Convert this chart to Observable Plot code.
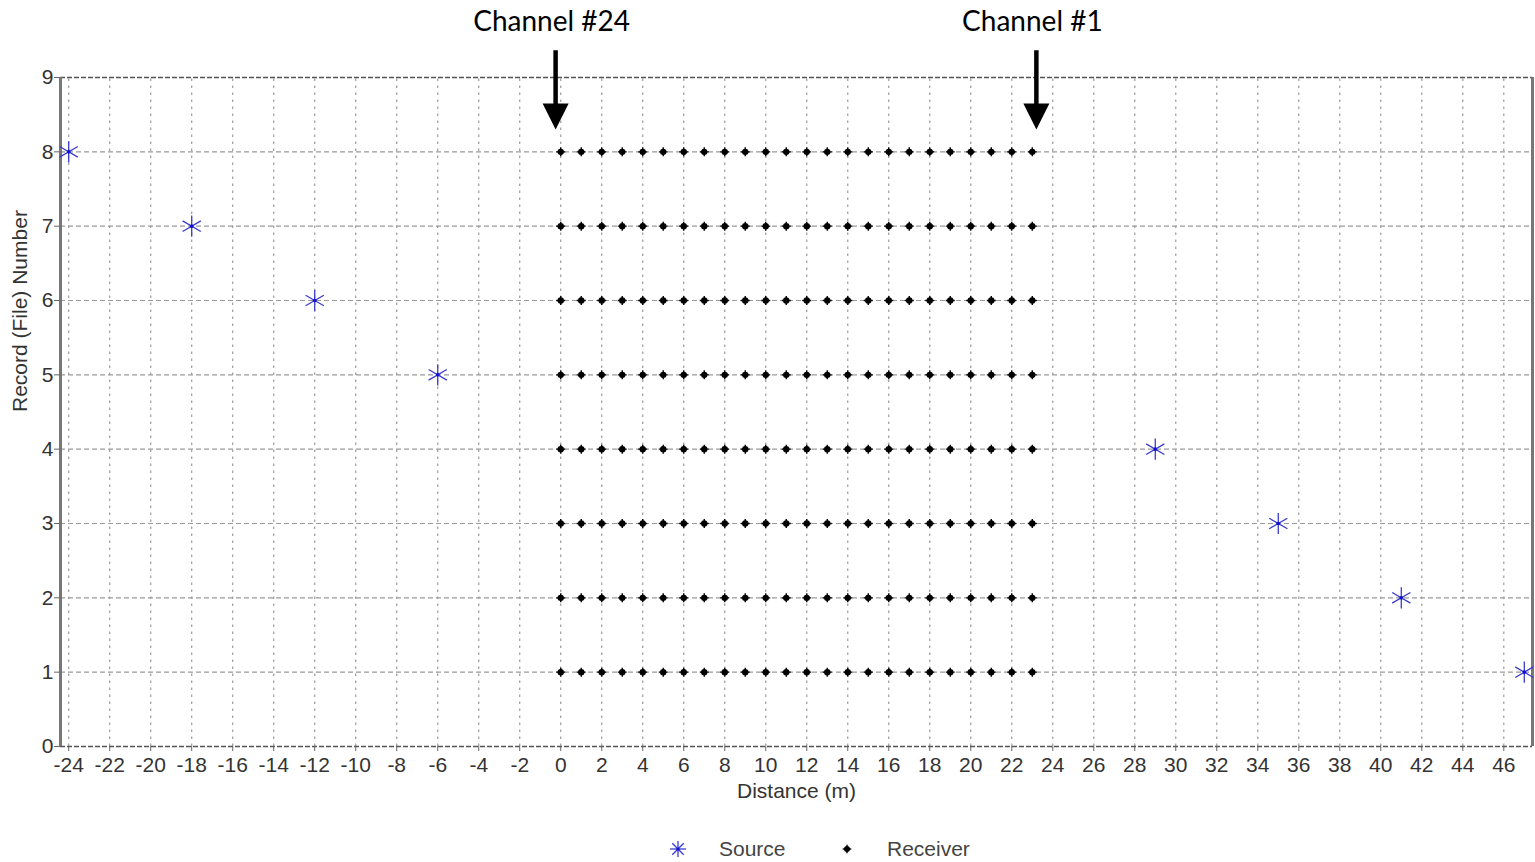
<!DOCTYPE html>
<html>
<head>
<meta charset="utf-8">
<script src="https://cdn.jsdelivr.net/npm/d3@7"></script>
<script src="https://cdn.jsdelivr.net/npm/@observablehq/plot@0.6"></script>
<style>
  html, body { margin: 0; padding: 0; background: #fff; }
  #chart { width: 1535px; }
  #legend { width: 1535px; height: 30px; position: relative; margin-top: 19px;
    font-family: "Liberation Sans", Arial, sans-serif; font-size: 21px; color: #444; }
  #legend .item { position: absolute; top: 0; line-height: 30px; }
</style>
</head>
<body>
<div id="chart"></div>
<div id="legend">
  <svg class="item" style="left:668px;top:5px" width="20" height="20" viewBox="-10 -10 20 20">
    <g stroke="#3b3bd0" stroke-width="1.3">
      <line x1="-8" y1="0" x2="8" y2="0"/><line x1="0" y1="-8" x2="0" y2="8"/>
      <line x1="-5.7" y1="-5.7" x2="5.7" y2="5.7"/><line x1="-5.7" y1="5.7" x2="5.7" y2="-5.7"/>
    </g>
    <circle r="1.6" fill="#1010d0"/>
  </svg>
  <span class="item" style="left:719px">Source</span>
  <svg class="item" style="left:840px;top:8px" width="14" height="14" viewBox="-7 -7 14 14">
    <circle r="3" fill="#000"/>
    <g stroke="#000" stroke-width="1.4"><line x1="-4.3" y1="0" x2="4.3" y2="0"/><line x1="0" y1="-4.3" x2="0" y2="4.3"/></g>
  </svg>
  <span class="item" style="left:887px">Receiver</span>
</div>
<script>
// Source positions (distance in m, record number)
const sourceX = [-24, -18, -12, -6, 29, 35, 41, 47];
const sourceY = [8, 7, 6, 5, 4, 3, 2, 1];
// Receivers: 24 channels at 0..23 m for each record 1..8
const receiverX = [0,1,2,3,4,5,6,7,8,9,10,11,12,13,14,15,16,17,18,19,20,21,22,23];
const records = [1,2,3,4,5,6,7,8];
// Tick values
const xTicks = [-24,-22,-20,-18,-16,-14,-12,-10,-8,-6,-4,-2,0,2,4,6,8,10,12,14,16,18,20,22,24,26,28,30,32,34,36,38,40,42,44,46];
const yTicks = [0,1,2,3,4,5,6,7,8,9];
// Annotations
const annotX = [-0.25, 23.2];
const annotLabels = ["Channel #24", "Channel #1"];
const annotTextY = [9.74, 9.74];
const arrowTopY = [9.36, 9.36];
const arrowTipY = [8.3, 8.3];

const sources = sourceX.map((x, i) => ({x, y: sourceY[i]}));
const receivers = records.flatMap(r => receiverX.map(x => ({x, y: r})));
const annots = annotX.map((x, i) => ({x, label: annotLabels[i], ty: annotTextY[i], y1: arrowTopY[i], y2: arrowTipY[i]}));

const downTriangle = {
  draw(context) {
    context.moveTo(-13, -26);
    context.lineTo(13, -26);
    context.lineTo(0, 0);
    context.closePath();
  }
};
const smallPlus = {
  draw(context) {
    context.moveTo(-4.5, 0); context.lineTo(4.5, 0);
    context.moveTo(0, -4.5); context.lineTo(0, 4.5);
  }
};

const font = "'Liberation Sans', Arial, sans-serif";

const chart = Plot.plot({
  width: 1535,
  height: 815,
  marginLeft: 60,
  marginRight: 3,
  marginTop: 77,
  marginBottom: 69,
  style: {fontFamily: font, fontSize: "21px", color: "#333", background: "#fff", overflow: "visible"},
  x: {domain: [-24.4, 47.4]},
  y: {domain: [0, 9]},
  marks: [
    // grid
    Plot.ruleX(xTicks, {y1: 0, y2: 9, stroke: "#9a9a9a", strokeWidth: 1.2, strokeDasharray: "2.5,4.5"}),
    Plot.ruleY(yTicks.slice(1, -1), {stroke: "#9a9a9a", strokeWidth: 1.2, strokeDasharray: "5,3"}),
    // frame: dashed top/bottom, solid left/right
    Plot.ruleY([0, 9], {stroke: "#555", strokeWidth: 1.5, strokeDasharray: "5,2"}),
    Plot.ruleX([-24.4, 47.4], {y1: 0, y2: 9, stroke: "#777", strokeWidth: 3}),
    // axes
    Plot.axisX({ticks: xTicks, tickFormat: d => d < 0 ? "-" + Math.abs(d) : String(d), tickSize: 5, tickPadding: 6, stroke: "#666", fill: "#333", label: null}),
    Plot.axisY({ticks: yTicks, tickSize: 6, tickPadding: 1, stroke: "#666", fill: "#333", label: null}),
    Plot.text(["Distance (m)"], {frameAnchor: "bottom", lineAnchor: "middle", dy: 45, fill: "#333", fontSize: 21}),
    Plot.text(["Record (File) Number"], {frameAnchor: "left", dx: -40, rotate: -90, fill: "#333", fontSize: 21}),
    // data
    Plot.dot(receivers, {x: "x", y: "y", r: 3.2, fill: "#000", stroke: null}),
    Plot.dot(receivers, {x: "x", y: "y", symbol: smallPlus, fill: "none", stroke: "#000", strokeWidth: 1.4}),
    Plot.dot(sources, {x: "x", y: "y", symbol: "asterisk", r: 10, stroke: "#3b3bd0", strokeWidth: 1.3}),
    Plot.dot(sources, {x: "x", y: "y", r: 1.8, fill: "#1010d0", stroke: null}),
    // annotations
    Plot.ruleX(annots, {x: "x", y1: "y1", y2: d => d.y2 + 0.2, stroke: "#000", strokeWidth: 4.5}),
    Plot.dot(annots, {x: "x", y: "y2", symbol: downTriangle, fill: "#000", stroke: null}),
    Plot.text(annots, {x: "x", y: "ty", dx: -4, text: "label", fontFamily: "Lato, 'Open Sans', sans-serif", fontSize: 28, fill: "#000"})
  ]
});
document.getElementById("chart").appendChild(chart);
</script>
</body>
</html>
